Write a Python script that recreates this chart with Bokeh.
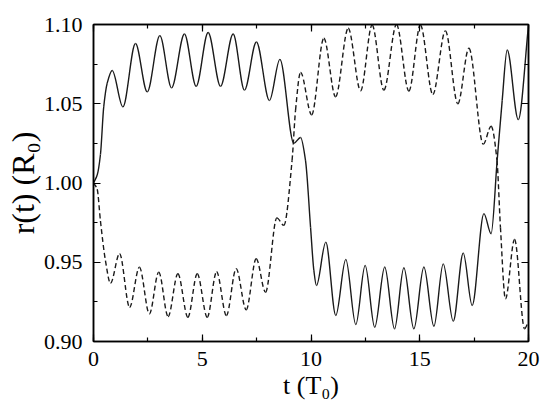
from bokeh.plotting import figure
from bokeh.models import (Range1d, LinearAxis, ColumnDataSource, PrintfTickFormatter,
                          SingleIntervalTicker, CustomJSTickFormatter)
from bokeh.embed import file_html
from bokeh.resources import INLINE

# ---- data (t in T0, r in R0) ----
t_solid = [0.00, 0.17, 0.32, 0.47, 0.63, 0.86, 1.35, 1.93, 2.47, 3.05, 3.59, 4.18, 4.72,
           5.27, 5.84, 6.42, 6.94, 7.49, 8.09, 8.57, 9.21, 9.52, 9.75, 9.98, 10.13, 10.25,
           10.68, 11.14, 11.60, 12.06, 12.49, 12.93, 13.39, 13.84, 14.27, 14.73, 15.19,
           15.65, 16.08, 16.54, 17.00, 17.41, 17.95, 18.28, 18.56, 18.79, 19.02, 19.53, 20.00]
r_solid = [1.000, 1.005, 1.018, 1.048, 1.063, 1.071, 1.048, 1.088, 1.0575, 1.093, 1.060, 1.094, 1.061,
           1.095, 1.061, 1.094, 1.0586, 1.089, 1.052, 1.078, 1.025, 1.0287, 1.014, 0.972, 0.945, 0.9353,
           0.9627, 0.9164, 0.9518, 0.9107, 0.948, 0.909, 0.947, 0.908, 0.9465, 0.908, 0.947,
           0.9096, 0.949, 0.9128, 0.9558, 0.9227, 0.9807, 0.968, 1.0144, 1.052, 1.0839, 1.040, 1.0995]

t_dash = [0.00, 0.17, 0.32, 0.55, 0.78, 1.20, 1.66, 2.11, 2.57, 3.00, 3.43, 3.88, 4.34, 4.77,
          5.23, 5.66, 6.11, 6.56, 7.02, 7.48, 7.91, 8.43, 8.75, 9.13, 9.29, 9.52, 10.03, 10.59,
          11.13, 11.71, 12.28, 12.81, 13.35, 13.93, 14.50, 15.03, 15.60, 16.18, 16.75, 17.26,
          17.92, 18.28, 18.55, 18.71, 18.94, 19.36, 19.82, 19.95]
r_dash = [1.000, 0.996, 0.976, 0.951, 0.9368, 0.9554, 0.9216, 0.9469, 0.9174, 0.9438, 0.9157, 0.9427, 0.9153, 0.9427,
          0.9153, 0.944, 0.9164, 0.946, 0.920, 0.9522, 0.9311, 0.978, 0.9733, 1.0143, 1.046, 1.0698, 1.043, 1.0913,
          1.0544, 1.0976, 1.0582, 1.0997, 1.0586, 1.100, 1.058, 1.0997, 1.0559, 1.096, 1.050, 1.085,
          1.0245, 1.0358, 1.0143, 0.972, 0.9269, 0.9644, 0.908, 0.911]

x_tick_step = 5
y_tick_step = 0.05


def smooth_segments(x, y):
    """Cubic Bezier segments through the read points (monotone Hermite tangents)."""
    n = len(x)
    h = [x[i + 1] - x[i] for i in range(n - 1)]
    d = [(y[i + 1] - y[i]) / h[i] for i in range(n - 1)]
    m = [0.0] * n
    m[0], m[-1] = d[0], d[-1]
    for i in range(1, n - 1):
        if d[i - 1] * d[i] <= 0:
            m[i] = 0.0
        else:
            w1 = 2 * h[i] + h[i - 1]
            w2 = h[i] + 2 * h[i - 1]
            m[i] = (w1 + w2) / (w1 / d[i - 1] + w2 / d[i])
    src = dict(x0=[], y0=[], x1=[], y1=[], cx0=[], cy0=[], cx1=[], cy1=[])
    for i in range(n - 1):
        src["x0"].append(x[i]); src["y0"].append(y[i])
        src["x1"].append(x[i + 1]); src["y1"].append(y[i + 1])
        src["cx0"].append(x[i] + h[i] / 3); src["cy0"].append(y[i] + m[i] * h[i] / 3)
        src["cx1"].append(x[i + 1] - h[i] / 3); src["cy1"].append(y[i + 1] - m[i + 1] * h[i] / 3)
    return ColumnDataSource(src)


FONT = "Liberation Serif"

p = figure(width=550, height=408, output_backend="svg", toolbar_location=None,
           x_range=Range1d(0, 20), y_range=Range1d(0.9, 1.1),
           min_border_left=93, min_border_right=22, min_border_top=24, min_border_bottom=67,
           x_axis_label="t (T₀)", y_axis_label="r(t) (R₀)")
p.xgrid.visible = False
p.ygrid.visible = False
p.outline_line_color = "black"
p.outline_line_width = 1.5
p.background_fill_color = "white"
p.border_fill_color = "white"

p.bezier(x0="x0", y0="y0", x1="x1", y1="y1", cx0="cx0", cy0="cy0", cx1="cx1", cy1="cy1",
         source=smooth_segments(t_solid, r_solid), line_color="#1a1a1a", line_width=1.4)
p.bezier(x0="x0", y0="y0", x1="x1", y1="y1", cx0="cx0", cy0="cy0", cx1="cx1", cy1="cy1",
         source=smooth_segments(t_dash, r_dash), line_color="#1a1a1a", line_width=1.4,
         line_dash="5 3")


def style(ax, labels=True):
    ax.axis_line_width = 1.5
    ax.axis_line_color = "black"
    ax.major_tick_in = 7
    ax.major_tick_out = 0
    ax.minor_tick_in = 4
    ax.minor_tick_out = 0
    ax.major_tick_line_width = 1.2
    ax.minor_tick_line_width = 1.2
    if labels:
        ax.major_label_text_font = FONT
        ax.major_label_text_font_size = "22px"
        ax.major_label_text_color = "black"
        ax.axis_label_text_font = FONT
        ax.axis_label_text_font_style = "normal"
        ax.axis_label_text_color = "black"
    else:
        ax.formatter = CustomJSTickFormatter(code="return ''")
        ax.major_label_standoff = 0
        ax.major_label_text_font_size = "8px"


p.xaxis.ticker = SingleIntervalTicker(interval=x_tick_step, num_minor_ticks=2)
p.yaxis.ticker = SingleIntervalTicker(interval=y_tick_step, num_minor_ticks=2)
p.yaxis.formatter = PrintfTickFormatter(format="%.2f")
style(p.xaxis[0])
style(p.yaxis[0])
p.xaxis.axis_label_text_font_size = "26px"
p.yaxis.axis_label_text_font_size = "32px"
p.xaxis.major_label_standoff = 10
p.xaxis.axis_label_standoff = 2
p.yaxis.major_label_standoff = 11
p.yaxis.axis_label_standoff = 0

top = LinearAxis(ticker=SingleIntervalTicker(interval=x_tick_step, num_minor_ticks=2))
right = LinearAxis(ticker=SingleIntervalTicker(interval=y_tick_step, num_minor_ticks=2))
style(top, labels=False)
style(right, labels=False)
p.add_layout(top, "above")
p.add_layout(right, "right")

open("out.html", "w").write(file_html(p, INLINE))
